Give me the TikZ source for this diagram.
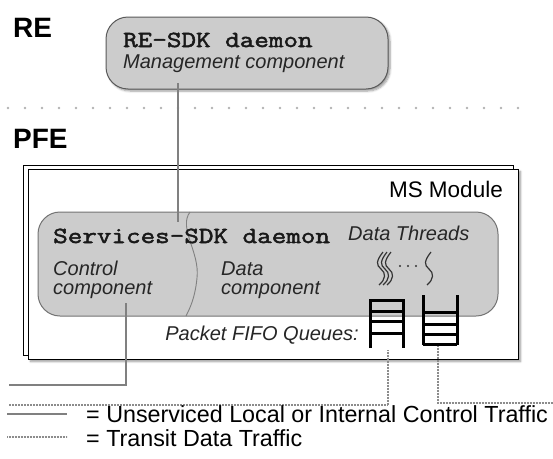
\documentclass[tikz,border=0pt]{standalone}
\usepackage{fontspec}
\setmainfont{Liberation Sans}
\newfontfamily\crr[FakeStretch=1.23,FakeBold=2.2]{Latin Modern Mono}
\usetikzlibrary{shadows.blur}
\begin{document}
\begin{tikzpicture}[x=1pt,y=-1pt,
  rbox/.style={draw=black!65, fill=black!20, rounded corners=22pt, line width=1pt, inner sep=0pt},
  framebox/.style={draw=black, fill=white, line width=1pt, inner sep=0pt},
  gline/.style={draw=black!50, line width=1.6pt},
  dline/.style={draw=black!45, line width=1.8pt, dash pattern=on 0.8pt off 0.7pt},
  qline/.style={draw=black, line width=3pt},
  thr/.style={draw=black!80, line width=1.2pt},
  head/.style={font=\fontsize{28}{30}\selectfont\bfseries, anchor=base west, inner sep=0pt},
  mono/.style={font=\fontsize{23}{26}\selectfont\crr, anchor=base west, inner sep=0pt, text=black!90},
  ital/.style={font=\fontsize{20}{22}\selectfont\itshape, anchor=base west, inner sep=0pt, text=black!85},
  label/.style={font=\fontsize{23.3}{24}\selectfont, anchor=base west, inner sep=0pt}
]
\useasboundingbox (0,0) rectangle (553,458);

% headings
\node[head] (re) at (13,37) {RE};
\node[head] (pfe) at (13,148) {PFE};

% separator
\foreach \i in {0,...,30} \fill[black!30] (8+\i*17,108) circle (1.4pt);

% RE box
\node[rbox, blur shadow={shadow xshift=2pt, shadow yshift=-2pt, shadow blur steps=6},
      minimum width=282pt, minimum height=72pt] (rebox) at (247,53) {};
\node[mono] (retxt) at (123,47) {RE-SDK daemon};
\node[ital] (mgmt) at (123,68) {Management component};

% MS module frames
\node[framebox, minimum width=490pt, minimum height=190pt] (back) at (268,260) {};
\node[framebox, blur shadow={shadow xshift=2.5pt, shadow yshift=-2.5pt, shadow blur steps=6},
      minimum width=490pt, minimum height=190pt] (front) at (273,264) {};
\node[label, font=\fontsize{22.5}{24}\selectfont, anchor=base east] (ms) at (503,197) {MS Module};

% Services box
\node[rbox, draw=black!55, minimum width=460pt, minimum height=104pt] (svc) at (268,264) {};
\draw[draw=black!50, line width=0.9pt] (190,212) .. controls (178,228) and (200,252) .. (197,278)
   .. controls (195,298) and (190,308) .. (186,316);
\node[mono] (svctxt) at (53,243) {Services-SDK daemon};
\node[ital] (ctl1) at (53,275) {Control};
\node[ital] (ctl2) at (53,294) {component};
\node[ital] (dat1) at (221,275) {Data};
\node[ital] (dat2) at (221,294) {component};
\node[ital] (dthr) at (348,240) {Data Threads};

% threads
\foreach \x in {381,385,389,429}
  \draw[thr] (\x+2,252) .. controls (\x-5,261) and (\x-5,265) .. (\x,269)
     .. controls (\x+5,273) and (\x+5,279) .. (\x-2,285);
\foreach \x in {400,408,416} \fill[black!80] (\x,266) circle (1.2pt);

% queues
\draw[qline] (370,348) -- (370,299) (403,299) -- (403,348);
\draw[qline] (370,300.5) -- (403,300.5);
\foreach \y in {311,321,333} \draw[qline] (370,\y) -- (403,\y);
\draw[qline] (423,295) -- (423,345) (457,295) -- (457,345);
\foreach \y in {312,324,334} \draw[qline] (423,\y) -- (457,\y);
\draw[qline] (423,344) -- (457,344);
\coordinate (q1) at (388,350);
\coordinate (q2) at (438,346);
\node[ital, anchor=base east] (pfq) at (359,340) {Packet FIFO Queues:};

% control traffic
\coordinate (reout) at (178,83);
\coordinate (svcin) at (178,222);
\draw[gline, line width=1.3pt] (reout) -- (svcin);
\coordinate (ctlout) at (126,303);
\coordinate (ctlend) at (9,385);
\draw[gline] (ctlout) |- (ctlend);

% transit traffic
\coordinate (t1end) at (9,405);
\coordinate (t2end) at (553,403);
\draw[dline] (q1) |- (t1end);
\draw[dline] (q2) |- (t2end);

% legend
\coordinate (l1a) at (7,414); \coordinate (l1b) at (67,414);
\draw[gline] (l1a) -- (l1b);
\node[label] (leg1) at (86,422) {= Unserviced Local or Internal Control Traffic};
\coordinate (l2a) at (7,437); \coordinate (l2b) at (67,437);
\draw[dline] (l2a) -- (l2b);
\node[label] (leg2) at (86,446) {= Transit Data Traffic};
\end{tikzpicture}
\end{document}
